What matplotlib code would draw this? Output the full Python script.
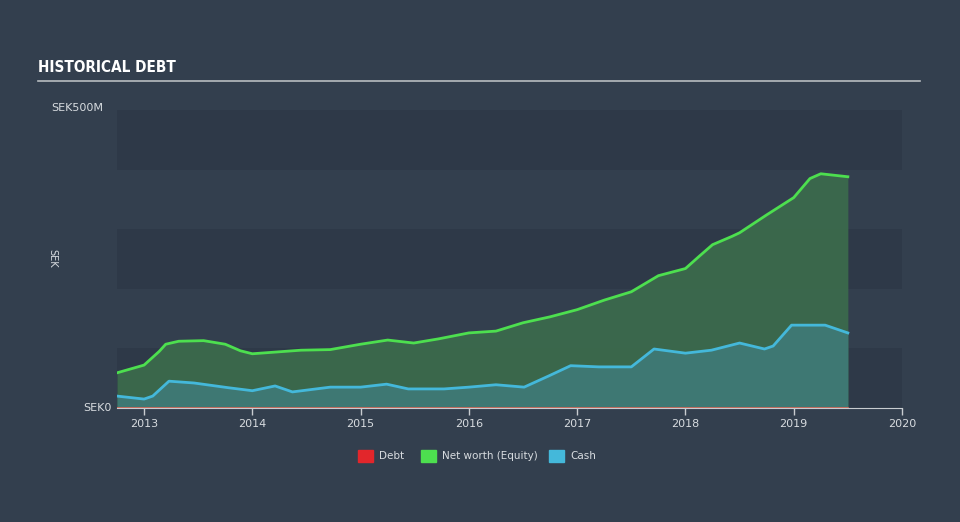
import matplotlib
matplotlib.use('Agg')
import matplotlib.pyplot as plt
from matplotlib.patches import Rectangle

# values (SEK millions)
nw_x = [2012.75, 2013.0, 2013.14, 2013.2, 2013.32, 2013.55, 2013.75, 2013.89, 2014.0,
        2014.45, 2014.72, 2015.0, 2015.25, 2015.49, 2015.72, 2016.0, 2016.25, 2016.5,
        2016.75, 2017.0, 2017.25, 2017.5, 2017.75, 2018.0, 2018.13, 2018.25, 2018.43,
        2018.5, 2018.75, 2019.0, 2019.15, 2019.25, 2019.5]
nw_y = [59, 72, 95, 107, 112, 113, 107, 96, 91,
        97, 98, 107, 114, 109, 116, 126, 129, 143,
        153, 165, 181, 195, 222, 234, 255, 274, 288,
        294, 324, 353, 385, 393, 388]

cash_x = [2012.75, 2013.0, 2013.08, 2013.23, 2013.46, 2013.78, 2014.0, 2014.21, 2014.37,
          2014.72, 2015.0, 2015.24, 2015.44, 2015.77, 2016.0, 2016.25, 2016.51, 2016.74,
          2016.94, 2017.2, 2017.5, 2017.71, 2018.0, 2018.24, 2018.5, 2018.73, 2018.81,
          2018.98, 2019.29, 2019.5]
cash_y = [20, 15, 20, 45, 42, 34, 29, 37, 27,
          35, 35, 40, 32, 32, 35, 39, 35, 54,
          71, 69, 69, 99, 92, 97, 109, 99, 104,
          139, 139, 126]

debt_x = [2012.75, 2019.5]
debt_y = [0, 0]

years = [2013, 2014, 2015, 2016, 2017, 2018, 2019, 2020]

bg = '#333f4e'
band = '#2e3948'
green = '#4ddf4f'
blue = '#44b8da'
red = '#e2262b'
txt = '#d8dce0'

fig = plt.figure(figsize=(9.6, 5.22), dpi=100, facecolor=bg)
ax = fig.add_axes([117/960, 114/522, 785/960, 298/522])
ax.set_facecolor(bg)
ax.set_xlim(2012.75, 2020.0)
ax.set_ylim(0, 500)

# darker horizontal bands
for lo in (0, 200, 400):
    ax.axhspan(lo, lo + 100, color=band, zorder=0, lw=0)

ax.fill_between(nw_x, nw_y, color='#3b6a4c', alpha=0.95, zorder=1, lw=0)
ax.fill_between(cash_x, cash_y, color='#3e7873', zorder=2, lw=0)
ax.plot(nw_x, nw_y, color=green, lw=2, zorder=3, solid_joinstyle='round')
ax.plot(cash_x, cash_y, color=blue, lw=2, zorder=4, solid_joinstyle='round')
ax.plot(debt_x, debt_y, color='#d86a5a', lw=1.2, zorder=5)

for s in ['top', 'right', 'left']:
    ax.spines[s].set_visible(False)
ax.spines['bottom'].set_color('#c8ccd0')
ax.set_yticks([])
ax.set_xticks(years)
ax.set_xticklabels([str(y) for y in years])
ax.tick_params(axis='x', colors='#c8ccd0', labelcolor=txt, labelsize=8,
               length=5, width=1, pad=3)

# y labels
fig.text(103/960, 1 - 108/522, 'SEK500M', color=txt, fontsize=8,
         ha='right', va='center')
fig.text(112/960, 1 - 408/522, 'SEK0', color=txt, fontsize=8,
         ha='right', va='center')
fig.text(52/960, 1 - 258/522, 'SEK', color=txt, fontsize=7,
         ha='center', va='center', rotation=270)

# title and rule
fig.text(38/960, 1 - 68/522, 'HISTORICAL DEBT', color='white', fontsize=11,
         fontweight='bold', ha='left', va='center',
         family='DejaVu Sans', fontstretch='condensed')
fig.add_artist(plt.Line2D([38/960, 920/960], [1 - 81/522, 1 - 81/522],
                          color='#b8bcc0', lw=1.2))

# legend
items = [(358, 'Debt', red), (421, 'Net worth (Equity)', green), (549, 'Cash', blue)]
for x, label, c in items:
    fig.add_artist(Rectangle((x/960, 1 - 462/522), 15/960, 12/522,
                             color=c, transform=fig.transFigure))
    fig.text((x + 21)/960, 1 - 456/522, label, color=txt, fontsize=7.5,
             ha='left', va='center')

fig.savefig('out.png', dpi=100, facecolor=bg)
plt.close(fig)
